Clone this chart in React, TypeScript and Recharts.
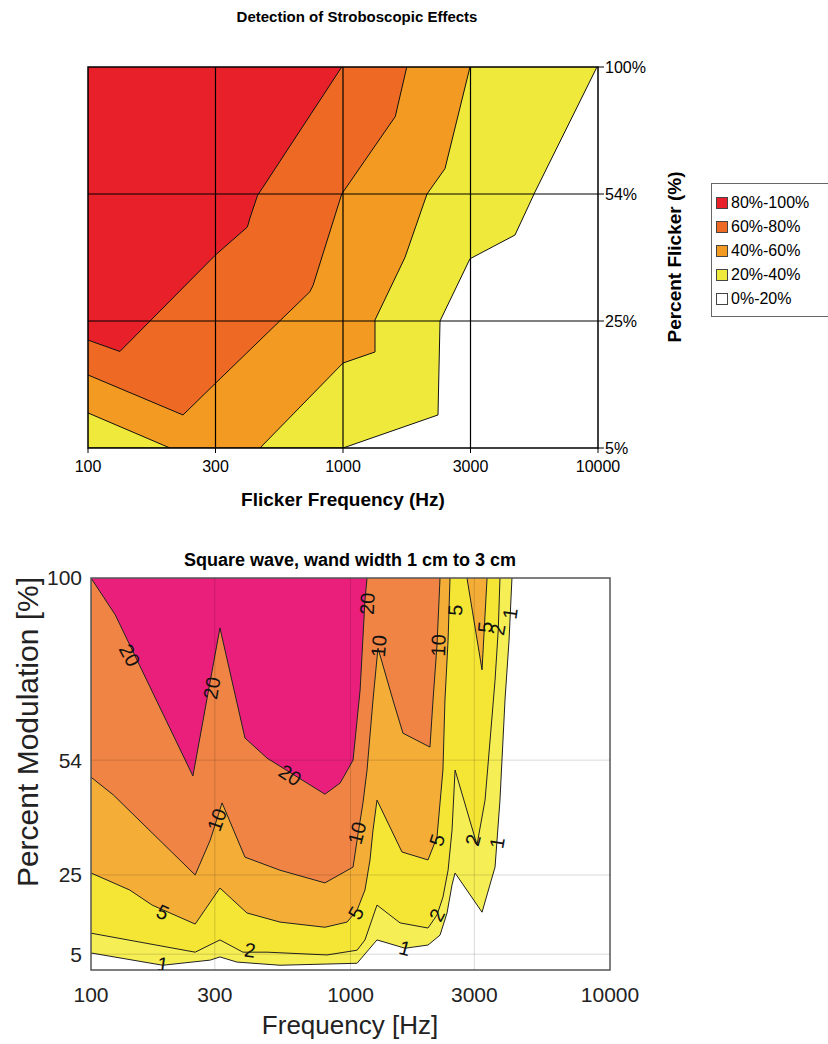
import React from "react";
import {
  ComposedChart,
  Area,
  XAxis,
  YAxis,
  ReferenceLine,
  ReferenceArea,
  Scatter,
} from "recharts";

const FONT = "'Liberation Sans', Arial, sans-serif";

// ---------- top chart: detection of stroboscopic effects ----------
// axes are evenly spaced steps, so boundaries are read as step positions
const flickerFreqLabels = ["100", "300", "1000", "3000", "10000"];
const flickerPctLabels = ["5%", "25%", "54%", "100%"];

const edge80 = [
  { f: 0, p: 0.85 },
  { f: 0.25, p: 0.76 },
  { f: 1.0, p: 1.52 },
  { f: 1.25, p: 1.74 },
  { f: 1.27, p: 1.81 },
  { f: 1.33, p: 1.99 },
  { f: 1.37, p: 2.05 },
  { f: 1.99, p: 3 },
];
const edge60 = [
  { f: 0, p: 0.575 },
  { f: 0.745, p: 0.26 },
  { f: 1.0, p: 0.51 },
  { f: 1.74, p: 1.23 },
  { f: 1.765, p: 1.28 },
  { f: 1.99, p: 2.0 },
  { f: 2.41, p: 2.61 },
  { f: 2.5, p: 3 },
];
const edge40 = [
  { f: 0, p: 0.276 },
  { f: 0.643, p: 0 },
  { f: 1.349, p: 0 },
  { f: 2.0, p: 0.669 },
  { f: 2.251, p: 0.756 },
  { f: 2.251, p: 1.008 },
  { f: 2.486, p: 1.5 },
  { f: 2.659, p: 2.0 },
  { f: 2.8, p: 2.2 },
  { f: 2.996, p: 3 },
];
const edge20 = [
  { f: 0, p: 0 },
  { f: 2.0, p: 0 },
  { f: 2.745, p: 0.26 },
  { f: 2.761, p: 1.0 },
  { f: 2.996, p: 1.49 },
  { f: 3.349, p: 1.677 },
  { f: 3.506, p: 2.016 },
  { f: 3.992, p: 3 },
];

const legendNames = ["80%-100%", "60%-80%", "40%-60%", "20%-40%", "0%-20%"];
const legendColors = ["#e8202a", "#ee6a24", "#f29a21", "#eee93b", "#ffffff"];

// ---------- bottom chart: square wave contours ----------
const freqTicks = [100, 300, 1000, 3000, 10000];
const modTicks = [5, 25, 54, 100];

const c20 = [
  { f: 100, m: 100 }, { f: 124, m: 90.7 }, { f: 247, m: 50.0 }, { f: 314, m: 87.4 },
  { f: 392, m: 59.6 }, { f: 477, m: 54.5 }, { f: 797, m: 45.4 }, { f: 912, m: 48.2 },
  { f: 1023, m: 54.0 }, { f: 1060, m: 64.1 }, { f: 1089, m: 71.7 }, { f: 1137, m: 94.4 },
  { f: 1158, m: 100 },
];
const c10 = [
  { f: 100, m: 49.7 }, { f: 122, m: 45.2 }, { f: 252, m: 25.0 }, { f: 288, m: 33.8 },
  { f: 320, m: 43.2 }, { f: 392, m: 29.5 }, { f: 535, m: 26.2 }, { f: 797, m: 23.0 },
  { f: 1023, m: 27.0 }, { f: 1060, m: 33.8 }, { f: 1117, m: 43.2 }, { f: 1158, m: 51.5 },
  { f: 1221, m: 69.2 }, { f: 1276, m: 82.3 }, { f: 1457, m: 69.2 }, { f: 1593, m: 60.8 },
  { f: 2024, m: 57.3 }, { f: 2080, m: 69.2 }, { f: 2155, m: 83.1 }, { f: 2213, m: 100 },
];
const c5 = [
  { f: 100, m: 25.5 }, { f: 141, m: 21.2 }, { f: 172, m: 17.4 }, { f: 252, m: 12.6 },
  { f: 314, m: 21.7 }, { f: 399, m: 15.4 }, { f: 535, m: 13.1 }, { f: 797, m: 11.8 },
  { f: 970, m: 13.1 }, { f: 1060, m: 16.1 }, { f: 1137, m: 21.2 }, { f: 1189, m: 28.8 },
  { f: 1221, m: 36.3 }, { f: 1265, m: 43.9 }, { f: 1579, m: 30.8 }, { f: 1989, m: 28.8 },
  { f: 2155, m: 34.6 }, { f: 2213, m: 43.2 }, { f: 2271, m: 51.5 }, { f: 2312, m: 69.2 },
  { f: 2377, m: 84.3 }, { f: 2418, m: 100 },
];
const c5b = [{ f: 2811, m: 100 }, { f: 3213, m: 76.8 }, { f: 3359, m: 100 }];
const c2 = [
  { f: 100, m: 10.3 }, { f: 252, m: 5.5 }, { f: 314, m: 8.6 }, { f: 385, m: 5.5 },
  { f: 477, m: 5.5 }, { f: 812, m: 4.8 }, { f: 1060, m: 6.0 }, { f: 1137, m: 8.6 },
  { f: 1265, m: 17.4 }, { f: 1552, m: 12.9 }, { f: 1989, m: 11.6 }, { f: 2155, m: 14.9 },
  { f: 2271, m: 19.4 }, { f: 2377, m: 26.2 }, { f: 2462, m: 36.3 }, { f: 2529, m: 51.5 },
  { f: 3072, m: 32.6 }, { f: 3300, m: 43.9 }, { f: 3451, m: 59.1 }, { f: 3606, m: 74.2 },
  { f: 3710, m: 86.9 }, { f: 3767, m: 100 },
];
const c1 = [
  { f: 100, m: 5.3 }, { f: 189, m: 2.2 }, { f: 288, m: 3.5 }, { f: 314, m: 4.3 },
  { f: 365, m: 3.0 }, { f: 535, m: 2.2 }, { f: 1060, m: 2.7 }, { f: 1265, m: 8.6 },
  { f: 1622, m: 6.5 }, { f: 1989, m: 7.3 }, { f: 2213, m: 9.8 }, { f: 2355, m: 15.4 },
  { f: 2462, m: 22.5 }, { f: 2529, m: 25.5 }, { f: 3213, m: 15.6 }, { f: 3606, m: 27.0 },
  { f: 3767, m: 43.9 }, { f: 3939, m: 69.2 }, { f: 4083, m: 84.3 }, { f: 4190, m: 100 },
];

const contourLabels = [
  { f: 141, m: 80.5, t: "20", a: 62 },
  { f: 292, m: 72.2, t: "20", a: -80 },
  { f: 585, m: 50.2, t: "20", a: 33 },
  { f: 1160, m: 93.5, t: "20", a: -88 },
  { f: 1285, m: 82.8, t: "10", a: -85 },
  { f: 2180, m: 83, t: "10", a: -88 },
  { f: 2530, m: 91.9, t: "5", a: -88 },
  { f: 3300, m: 87.6, t: "5", a: -85 },
  { f: 3700, m: 87, t: "2", a: -80 },
  { f: 4120, m: 91, t: "1", a: -82 },
  { f: 306, m: 38.9, t: "10", a: -70 },
  { f: 1060, m: 35.6, t: "10", a: -75 },
  { f: 189, m: 15.6, t: "5", a: 25 },
  { f: 1050, m: 15.4, t: "5", a: -60 },
  { f: 2155, m: 33.8, t: "5", a: -72 },
  { f: 410, m: 6.0, t: "2", a: 8 },
  { f: 2155, m: 14.9, t: "2", a: -62 },
  { f: 2965, m: 33.8, t: "2", a: -75 },
  { f: 189, m: 2.4, t: "1", a: 8 },
  { f: 1622, m: 6.5, t: "1", a: 15 },
  { f: 3672, m: 33.1, t: "1", a: -80 },
];

const bandColors = {
  c1: "#f6ee55",
  c2: "#f5e535",
  c5: "#f4ad37",
  c10: "#f08444",
  c20: "#ea1f7c",
};

const abs = (left: number, top: number): React.CSSProperties => ({
  position: "absolute",
  left,
  top,
  fontFamily: FONT,
  whiteSpace: "nowrap",
});

const LabelShape = (props: any) => {
  const { cx, cy, payload } = props;
  return (
    <text
      x={cx}
      y={cy}
      transform={`rotate(${payload.a} ${cx} ${cy})`}
      textAnchor="middle"
      dominantBaseline="central"
      style={{ fontSize: 20, fontFamily: FONT }}
      fill="#111"
    >
      {payload.t}
    </text>
  );
};

const TopChart = () => (
  <div style={{ position: "absolute", left: 0, top: 0 }}>
    <ComposedChart width={828} height={480} margin={{ top: 67, right: 170, bottom: 2, left: 88 }}>
      <XAxis
        type="number"
        dataKey="f"
        domain={[0, 4]}
        ticks={[0, 1, 2, 3, 4]}
        tickFormatter={(v: number) => flickerFreqLabels[v]}
        allowDataOverflow
        axisLine={false}
        tickSize={5}
        tickMargin={8}
        tickLine={{ stroke: "#000" }}
        tick={{ fill: "#000", fontSize: 16, fontFamily: FONT }}
        height={30}
      />
      <YAxis
        type="number"
        dataKey="p"
        orientation="right"
        domain={[0, 3]}
        ticks={[0, 1, 2, 3]}
        tickFormatter={(v: number) => flickerPctLabels[v]}
        allowDataOverflow
        axisLine={false}
        tickSize={6}
        tickMargin={1}
        tickLine={{ stroke: "#000" }}
        tick={{ fill: "#000", fontSize: 16, fontFamily: FONT }}
        width={60}
      />
      <Area data={edge20} dataKey="p" type="linear" baseValue={3} fill={legendColors[3]} fillOpacity={1} stroke="#111" strokeWidth={1} isAnimationActive={false} />
      <Area data={edge40} dataKey="p" type="linear" baseValue={3} fill={legendColors[2]} fillOpacity={1} stroke="#111" strokeWidth={1} isAnimationActive={false} />
      <Area data={edge60} dataKey="p" type="linear" baseValue={3} fill={legendColors[1]} fillOpacity={1} stroke="#111" strokeWidth={1} isAnimationActive={false} />
      <Area data={edge80} dataKey="p" type="linear" baseValue={3} fill={legendColors[0]} fillOpacity={1} stroke="#111" strokeWidth={1} isAnimationActive={false} />
      {[1, 2, 3].map((x) => (
        <ReferenceLine key={`vx${x}`} x={x} stroke="#000" strokeWidth={1.2} />
      ))}
      {[1, 2].map((y) => (
        <ReferenceLine key={`hy${y}`} y={y} stroke="#000" strokeWidth={1.2} />
      ))}
      <ReferenceArea x1={0} x2={4} y1={0} y2={3} fill="none" stroke="#000" strokeWidth={1.5} fillOpacity={0} />
    </ComposedChart>
  </div>
);

const BottomChart = () => (
  <div style={{ position: "absolute", left: 0, top: 540 }}>
    <ComposedChart width={828} height={500} margin={{ top: 38, right: 218, bottom: 40, left: 31 }}>
      <XAxis
        type="number"
        dataKey="f"
        scale="log"
        domain={[100, 10000]}
        ticks={freqTicks}
        allowDataOverflow
        axisLine={false}
        tickLine={false}
        tickSize={0}
        tickMargin={17}
        tick={{ fill: "#222", fontSize: 21, fontFamily: FONT }}
        height={30}
      />
      <YAxis
        type="number"
        dataKey="m"
        domain={[1, 100]}
        ticks={modTicks}
        allowDataOverflow
        axisLine={false}
        tickLine={false}
        tickSize={0}
        tickMargin={9}
        tick={{ fill: "#222", fontSize: 21, fontFamily: FONT }}
        width={60}
      />
      <Area data={c1} dataKey="m" type="linear" baseValue={100} fill={bandColors.c1} fillOpacity={1} stroke="#222" strokeWidth={1} isAnimationActive={false} />
      <Area data={c2} dataKey="m" type="linear" baseValue={100} fill={bandColors.c2} fillOpacity={1} stroke="#222" strokeWidth={1} isAnimationActive={false} />
      <Area data={c5} dataKey="m" type="linear" baseValue={100} fill={bandColors.c5} fillOpacity={1} stroke="#222" strokeWidth={1} isAnimationActive={false} />
      <Area data={c5b} dataKey="m" type="linear" baseValue={100} fill={bandColors.c5} fillOpacity={1} stroke="#222" strokeWidth={1} isAnimationActive={false} />
      <Area data={c10} dataKey="m" type="linear" baseValue={100} fill={bandColors.c10} fillOpacity={1} stroke="#222" strokeWidth={1} isAnimationActive={false} />
      <Area data={c20} dataKey="m" type="linear" baseValue={100} fill={bandColors.c20} fillOpacity={1} stroke="#222" strokeWidth={1} isAnimationActive={false} />
      {[300, 1000, 3000].map((x) => (
        <ReferenceLine key={`gx${x}`} x={x} stroke="#000" strokeOpacity={0.15} />
      ))}
      {[5, 25, 54].map((y) => (
        <ReferenceLine key={`gy${y}`} y={y} stroke="#000" strokeOpacity={0.15} />
      ))}
      <ReferenceArea x1={100} x2={10000} y1={1} y2={100} fill="none" fillOpacity={0} stroke="#555" strokeWidth={1.5} />
      <Scatter data={contourLabels} dataKey="m" shape={LabelShape} isAnimationActive={false} />
    </ComposedChart>
  </div>
);

const App = () => {
  return (
    <div style={{ position: "absolute", left: 0, top: 0, width: 828, height: 1044, background: "#fff", overflow: "hidden" }}>
      <TopChart />
      <BottomChart />

      <div style={{ ...abs(357, 8), transform: "translateX(-50%)", fontSize: 15, fontWeight: "bold" }}>
        Detection of Stroboscopic Effects
      </div>
      <div style={{ ...abs(343, 489), transform: "translateX(-50%)", fontSize: 19, fontWeight: "bold" }}>
        Flicker Frequency (Hz)
      </div>
      <div
        style={{
          ...abs(675, 257),
          transform: "translate(-50%, -50%) rotate(-90deg)",
          fontSize: 19,
          fontWeight: "bold",
        }}
      >
        Percent Flicker (%)
      </div>

      <div
        style={{
          position: "absolute",
          left: 711,
          top: 183,
          width: 130,
          height: 134,
          border: "1px solid #666",
          background: "#fff",
          fontFamily: FONT,
          fontSize: 16,
          boxSizing: "border-box",
          paddingTop: 7,
        }}
      >
        {legendNames.map((name, i) => (
          <div key={name} style={{ display: "flex", alignItems: "center", height: 24, paddingLeft: 4 }}>
            <span
              style={{
                display: "inline-block",
                width: 10,
                height: 10,
                background: legendColors[i],
                border: "1px solid #444",
                marginRight: 3,
              }}
            />
            {name}
          </div>
        ))}
      </div>

      <div style={{ ...abs(350, 550), transform: "translateX(-50%)", fontSize: 18, fontWeight: "bold" }}>
        Square wave, wand width 1 cm to 3 cm
      </div>
      <div style={{ ...abs(350, 1010), transform: "translateX(-50%)", fontSize: 26, color: "#222" }}>
        Frequency [Hz]
      </div>
      <div
        style={{
          ...abs(28, 732),
          transform: "translate(-50%, -50%) rotate(-90deg)",
          fontSize: 30,
          color: "#222",
        }}
      >
        Percent Modulation [%]
      </div>
    </div>
  );
};

export default App;
